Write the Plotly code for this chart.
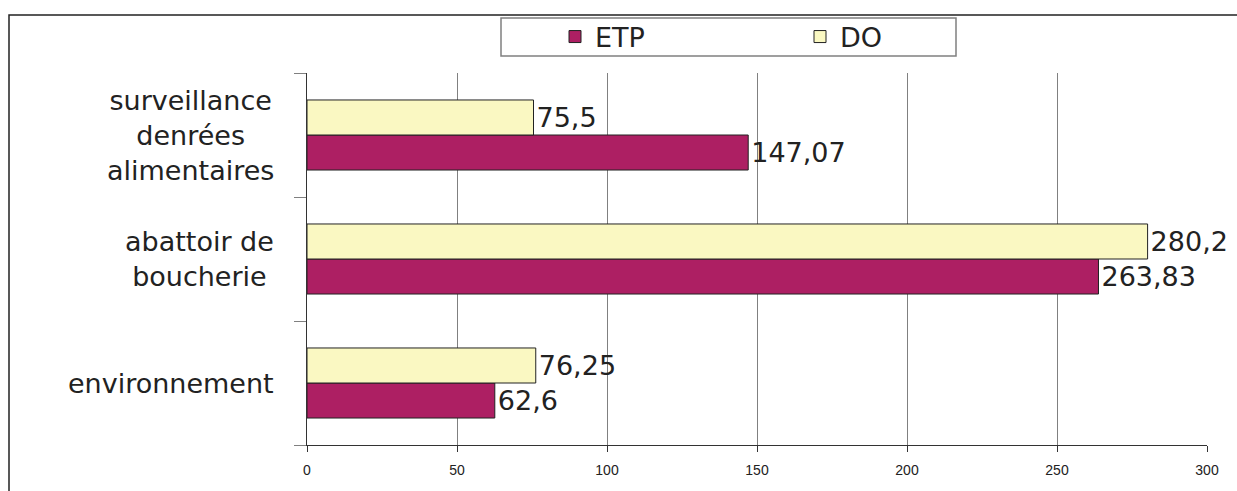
import plotly.graph_objects as go

# Data
categories = ["environnement", "abattoir de<br>boucherie", "surveillance<br>denrées<br>alimentaires"]
etp_values = [62.6, 263.83, 147.07]
do_values = [76.25, 280.2, 75.5]
x_ticks = [0, 50, 100, 150, 200, 250, 300]

ETP_COLOR = "#AD1F63"
DO_COLOR = "#FAF8C2"
BIG_FONT = "DejaVu Sans"
SMALL_FONT = "Liberation Sans, Arial"

W, H = 1237, 491
ML, MR, MT, MB = 307, 30, 73, 46
PW, PH = W - ML - MR, H - MT - MB


def px_x(px):
    return (px - ML) / PW


def px_y(py):
    return (H - MB - py) / PH


def fr(v):
    return f"{v:g}".replace(".", ",")


fig = go.Figure()
for name, vals, color in [("ETP", etp_values, ETP_COLOR), ("DO", do_values, DO_COLOR)]:
    fig.add_trace(go.Bar(
        name=name, y=categories, x=vals, orientation="h",
        marker=dict(color=color, line=dict(color="#222222", width=1)),
        text=[fr(v) for v in vals], textposition="outside",
        textfont=dict(family=BIG_FONT, size=27, color="#222222"),
        cliponaxis=False, constraintext="none",
    ))

# category labels, each centred line by line
for c in categories:
    fig.add_annotation(
        x=px_x(276), xref="paper", y=c, yref="y", text=c,
        xanchor="right", yanchor="middle", align="center", showarrow=False,
        font=dict(family=BIG_FONT, size=27, color="#222222"),
    )

fig.update_layout(
    width=W, height=H,
    margin=dict(l=ML, r=MR, t=MT, b=MB, pad=0),
    paper_bgcolor="white", plot_bgcolor="white",
    barmode="group", bargap=0.435, bargroupgap=0,
    showlegend=True,
    legend=dict(
        orientation="h", x=px_x(555), xanchor="left", y=px_y(37), yanchor="middle",
        bgcolor="rgba(0,0,0,0)", borderwidth=0, traceorder="normal",
        font=dict(family=BIG_FONT, size=27, color="#222222"),
        entrywidth=200,
    ),
    shapes=[
        dict(type="rect", xref="paper", yref="paper",
             x0=px_x(9), x1=px_x(1260), y0=px_y(520), y1=px_y(15),
             line=dict(color="#222222", width=1.5), layer="below"),
        dict(type="rect", xref="paper", yref="paper",
             x0=px_x(501), x1=px_x(956), y0=px_y(56), y1=px_y(18),
             line=dict(color="#808080", width=1.5), fillcolor="white", layer="below"),
    ],
)

fig.update_xaxes(
    range=[0, 300], tickvals=x_ticks, ticktext=[str(t) for t in x_ticks],
    showgrid=True, gridcolor="#808080", gridwidth=1, zeroline=False,
    showline=True, linecolor="#333333", linewidth=1,
    ticks="outside", ticklen=6, tickcolor="#333333",
    tickfont=dict(family=SMALL_FONT, size=14, color="#222222"),
    ticklabelstandoff=6,
)
fig.update_yaxes(
    showticklabels=False, showgrid=False, zeroline=False,
    showline=True, linecolor="#333333", linewidth=1,
    ticks="outside", ticklen=12, tickcolor="#808080", tickson="boundaries",
)

fig.write_html("out.html")
